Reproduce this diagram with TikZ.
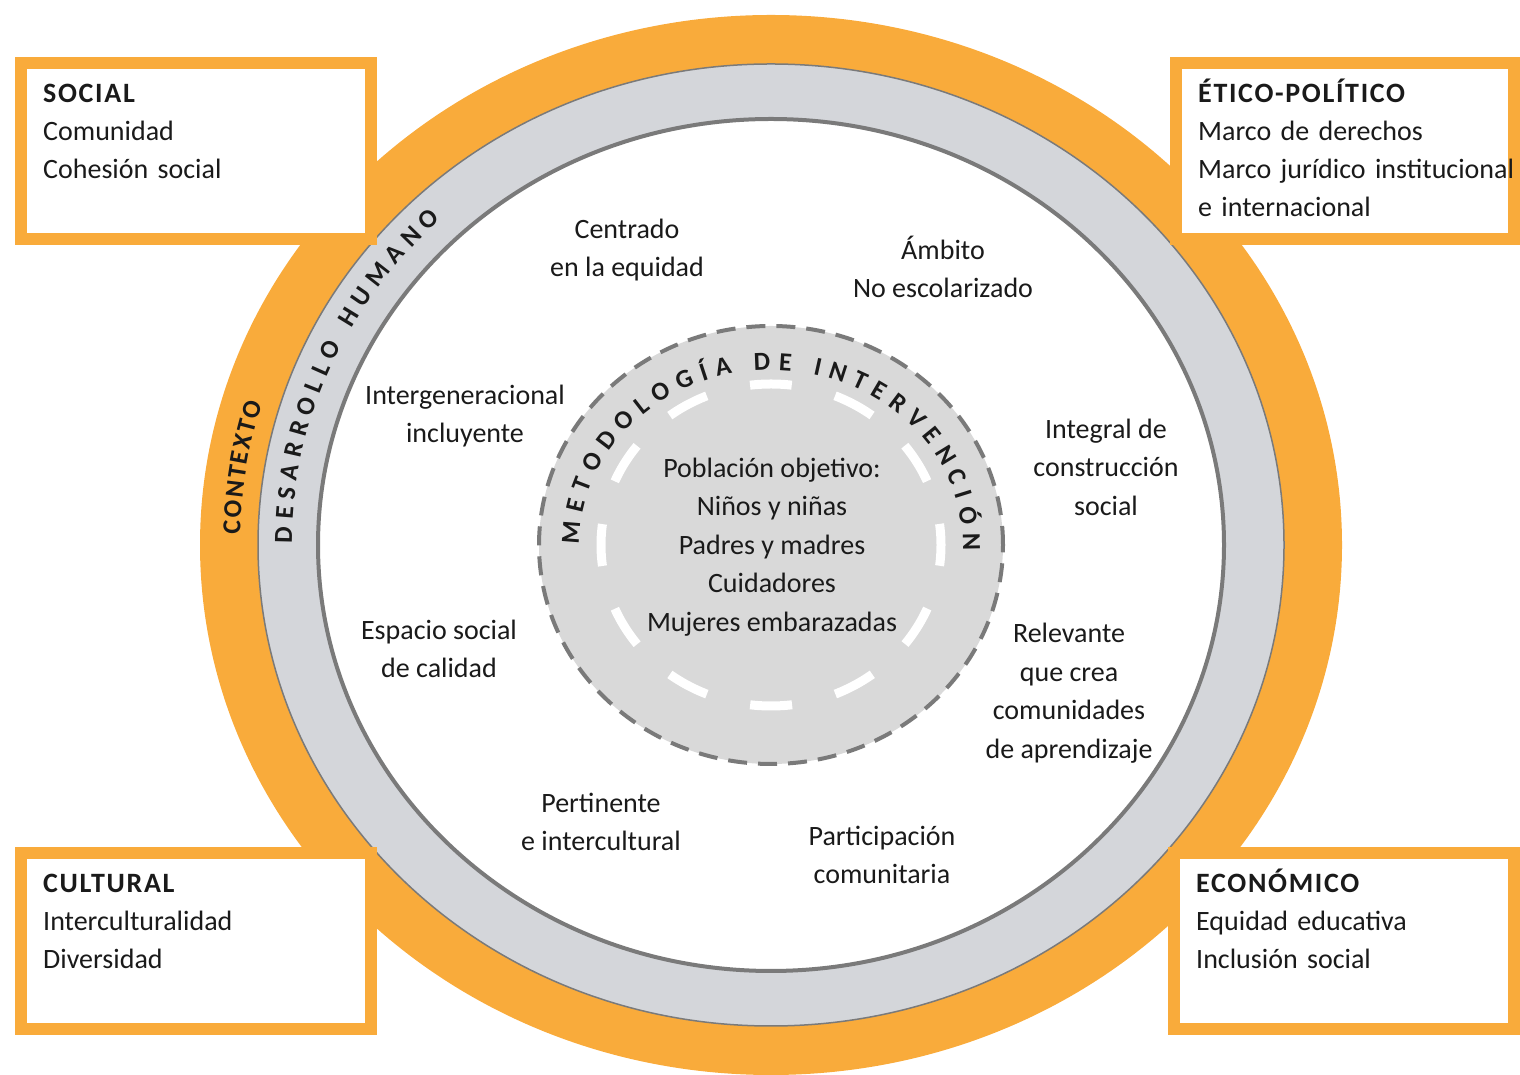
\documentclass[tikz,border=0pt]{standalone}
\usepackage{fontspec}
\setmainfont{Carlito}
\usetikzlibrary{positioning,calc}
\definecolor{ringc}{HTML}{F9AB3B}
\definecolor{bandc}{HTML}{D4D6DA}
\definecolor{corec}{HTML}{D9D9D9}
\definecolor{linec}{HTML}{7A7A7A}
\definecolor{inkc}{HTML}{1A1A1A}
\newcommand{\boxttl}[1]{{\bfseries\addfontfeature{LetterSpace=6}#1}}
\newcommand{\arcfont}{\bfseries\fontsize{26}{26}\selectfont}
% letters set one by one on an ellipse, clockwise:
% x radius, y radius, start angle, gap, prefix, letter/width (1/1000 em) list
\newcommand{\ringtext}[6]{%
  \xdef\curang{#3}%
  \foreach \ch/\cw [count=\i] in {#6} {
    \pgfmathsetmacro{\cell}{\cw*0.026 + #4}
    \pgfmathsetmacro{\ds}{veclen(#1*sin(\curang), #2*cos(\curang))}
    \pgfmathsetmacro{\midang}{\curang - deg(\cell/2/\ds)}
    \pgfmathsetmacro{\nrm}{atan2(#1*sin(\midang), #2*cos(\midang))}
    \node[arcch, rotate=\nrm-90] (#5-\i) at (\midang:#1 and #2) {\ch};
    \pgfmathsetmacro{\nextang}{\curang - deg(\cell/\ds)}
    \xdef\curang{\nextang}
  }}
\tikzset{
  ctxbox/.style={draw=ringc, line width=12pt, fill=white, minimum height=176pt, inner sep=0pt},
  boxtxt/.style={anchor=base west, inner sep=0pt, text width=320pt, align=left, text=inkc,
    font=\fontsize{28}{38}\selectfont},
  lbl/.style={align=center, inner sep=0pt, text=inkc, font=\fontsize{28}{38.5}\selectfont},
  arcch/.style={anchor=base, inner sep=0pt, text=inkc, font=\arcfont},
}

\begin{document}
\begin{tikzpicture}[x=1pt, y=1pt]
  \useasboundingbox (0,0) rectangle (1520,1075);
  \begin{scope}[shift={(771,530)}]
    % rings
    \fill[ringc] (0,0) ellipse[x radius=571, y radius=530];
    \draw[linec, line width=1.5pt, fill=bandc] (0,0) ellipse[x radius=513, y radius=481];
    \draw[linec, line width=4pt, fill=white] (0,0) ellipse[x radius=453, y radius=426];
    % core
    \draw[linec, line width=4pt, fill=corec, dash pattern=on 19pt off 11pt] (0,0) ellipse[x radius=232, y radius=219];
    \draw[white, line width=9pt, dash pattern=on 42pt off 44.7pt, dash phase=21pt]
      (90:170 and 161) arc[start angle=90, end angle=450, x radius=170, y radius=161];
    % texts on the rings
    \ringtext{531}{494}{178.9}{2.1}{ctx}{C/529,O/676,N/659,T/495,E/488,X/551,T/495,O/676}
    \ringtext{479}{449}{180.2}{6.9}{dh}{D/630,E/488,S/473,A/606,R/563,R/563,O/676,L/423,L/423,O/676,
      \space/226,H/631,U/653,M/874,A/606,N/659,O/676}
    \ringtext{192}{175}{181}{8}{met}{M/874,E/488,T/495,O/676,D/630,O/676,L/423,O/676,G/637,Í/267,A/606,
      \space/226,D/630,E/488,\space/226,I/267,N/659,T/495,E/488,R/563,V/591,E/488,N/659,C/529,I/267,Ó/676,N/659}
  \end{scope}

  \node[lbl] (centrado) at (627,825) {Centrado\\en la equidad};
  \node[lbl] (ambito) at (943,808) {Ámbito\\No escolarizado};
  \node[lbl] (intergen) at (465,659) {Intergeneracional\\incluyente};
  \node[lbl] (integral) at (1106,608) {Integral de\\construcción\\social};
  \node[lbl] (espacio) at (439,426) {Espacio social\\de calidad};
  \node[lbl] (relevante) at (1069,382) {Relevante\\que crea\\comunidades\\de aprendizaje};
  \node[lbl] (pertinente) at (601,253) {Pertinente\\e intercultural};
  \node[lbl] (particip) at (882,220) {Participación\\comunitaria};
  \node[lbl] (poblacion) at (772,528) {Población objetivo:\\Niños y niñas\\Padres y madres\\Cuidadores\\Mujeres embarazadas};

  % context boxes
  \node[ctxbox, minimum width=350pt] (social) at (196,924) {};
  \node[ctxbox, minimum width=338pt] (etico) at (1345,924) {};
  \node[ctxbox, minimum width=350pt] (cultural) at (196,134) {};
  \node[ctxbox, minimum width=340pt] (economico) at (1344,134) {};
  \node[boxtxt] (socialtxt) at ([xshift=28pt, yshift=-46pt]social.north west)
    {\boxttl{SOCIAL}\\Comunidad\\Cohesión social};
  \node[boxtxt] (eticotxt) at ([xshift=28pt, yshift=-46pt]etico.north west)
    {\boxttl{ÉTICO-POLÍTICO}\\Marco de derechos\\Marco jurídico institucional\\e internacional};
  \node[boxtxt] (culturaltxt) at ([xshift=28pt, yshift=-46pt]cultural.north west)
    {\boxttl{CULTURAL}\\Interculturalidad\\Diversidad};
  \node[boxtxt] (economicotxt) at ([xshift=28pt, yshift=-46pt]economico.north west)
    {\boxttl{ECONÓMICO}\\Equidad educativa\\Inclusión social};
\end{tikzpicture}
\end{document}
